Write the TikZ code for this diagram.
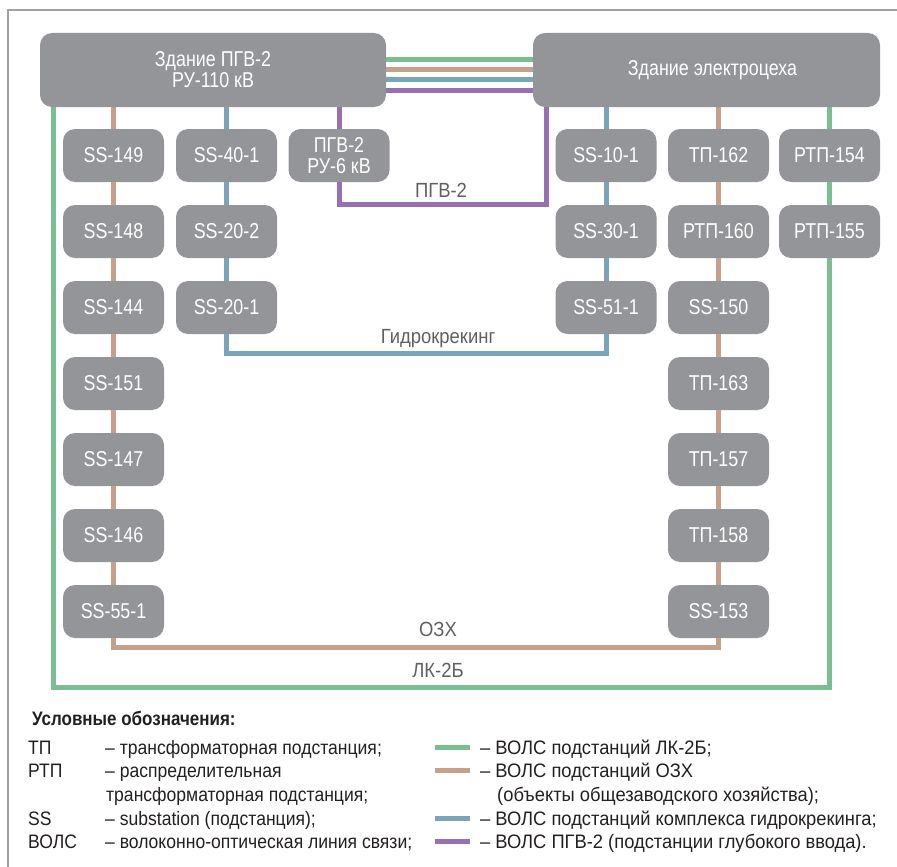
\documentclass[tikz,border=0pt]{standalone}
\usepackage{fontspec}
\setmainfont{Liberation Sans}[FakeStretch=0.83]
\newfontfamily\legL{Liberation Sans}[FakeStretch=0.90]
\newfontfamily\legR{Liberation Sans}[FakeStretch=0.94]
\newfontfamily\legT{Liberation Sans}[FakeStretch=0.87]
\newfontfamily\lblf{Liberation Sans}[FakeStretch=0.90]
\usetikzlibrary{backgrounds}
\definecolor{boxgray}{HTML}{939598}
\definecolor{lgreen}{HTML}{7BBE94}
\definecolor{lbrown}{HTML}{C6A08B}
\definecolor{lblue}{HTML}{7BA4B9}
\definecolor{lpurple}{HTML}{9670B0}
\definecolor{framegray}{HTML}{A0A0A0}
\definecolor{labelgray}{HTML}{5F6062}
\definecolor{legtext}{HTML}{231F20}
\begin{document}
\begin{tikzpicture}[x=1pt,y=-1pt,
  box/.style={rectangle, rounded corners=12pt, fill=boxgray, text=white,
    minimum width=101pt, minimum height=53pt, inner sep=0pt, align=center,
    font=\fontsize{21.5}{21}\selectfont},
  bld/.style={box, minimum width=346pt, minimum height=74pt},
  wire/.style={line width=5pt},
  gr/.style={wire, draw=lgreen},
  br/.style={wire, draw=lbrown},
  bl/.style={wire, draw=lblue},
  pu/.style={wire, draw=lpurple},
  lbl/.style={text=labelgray, inner sep=0pt, font=\lblf\fontsize{20.5}{20}\selectfont},
  leg/.style={text=legtext, inner sep=0pt, anchor=base west, font=\legL\fontsize{19.5}{23.5}\selectfont},
  legr/.style={leg, font=\legR\fontsize{19.5}{23.5}\selectfont},
  legt/.style={leg, font=\legT\fontsize{19.5}{23.5}\selectfont\bfseries}
]
\useasboundingbox (0,0) rectangle (897,867);
% frame
\draw[framegray, line width=1.5pt] (897,10) -- (8,10) -- (8,867);

% buildings
\node[bld] (pgv) at (213,70) {Здание ПГВ-2\\РУ-110 кВ};
\node[bld, minimum width=347pt] (el) at (706.5,70) {\hspace*{12pt}Здание электроцеха};

% left column 1
\node[box] (s149) at (113.5,155.5) {SS-149};
\node[box] (s148) at (113.5,231.5) {SS-148};
\node[box] (s144) at (113.5,307.5) {SS-144};
\node[box] (s151) at (113.5,383.5) {SS-151};
\node[box] (s147) at (113.5,459.5) {SS-147};
\node[box] (s146) at (113.5,535.5) {SS-146};
\node[box] (s551) at (113.5,611.5) {SS-55-1};
% left column 2
\node[box] (s401) at (226.5,155.5) {SS-40-1};
\node[box] (s202) at (226.5,231.5) {SS-20-2};
\node[box] (s201) at (226.5,307.5) {SS-20-1};
% left column 3
\node[box] (ru6) at (339,155.5) {ПГВ-2\\РУ-6 кВ};
% right column 1
\node[box] (s101) at (606,155.5) {SS-10-1};
\node[box] (s301) at (606,231.5) {SS-30-1};
\node[box] (s511) at (606,307.5) {SS-51-1};
% right column 2
\node[box] (t162) at (718.5,155.5) {ТП-162};
\node[box] (r160) at (718.5,231.5) {РТП-160};
\node[box] (s150) at (718.5,307.5) {SS-150};
\node[box] (t163) at (718.5,383.5) {ТП-163};
\node[box] (t157) at (718.5,459.5) {ТП-157};
\node[box] (t158) at (718.5,535.5) {ТП-158};
\node[box] (s153) at (718.5,611.5) {SS-153};
% right column 3
\node[box] (r154) at (829.5,155.5) {РТП-154};
\node[box] (r155) at (829.5,231.5) {РТП-155};

% line labels
\node[lbl] (lpgv) at (441,190) {ПГВ-2};
\node[lbl] (lgk) at (438,339) {Гидрокрекинг};
\node[lbl] (lozh) at (438,629.5) {ОЗХ};
\node[lbl] (llk) at (438,670) {ЛК-2Б};

% helper coordinates
\coordinate (pc) at (546,204.5);
\coordinate (bc) at (0,353.5);
\coordinate (oc) at (0,647);
\coordinate (gL) at (53,687);

\begin{scope}[on background layer]
% links between buildings
\draw[gr] ([yshift=10.5pt]pgv.east) -- ([yshift=10.5pt]pgv.east -| el.west);
\draw[br] ([yshift=0.5pt]pgv.east) -- ([yshift=0.5pt]pgv.east -| el.west);
\draw[bl] ([yshift=-9.5pt]pgv.east) -- ([yshift=-9.5pt]pgv.east -| el.west);
\draw[pu] ([yshift=-20.5pt]pgv.east) -- ([yshift=-20.5pt]pgv.east -| el.west);
% OZKh (brown)
\draw[br] (pgv.south -| s149) -- (s149) -- (s148) -- (s144) -- (s151) -- (s147) -- (s146) -- (s551);
\draw[br] (el.south -| t162) -- (t162) -- (r160) -- (s150) -- (t163) -- (t157) -- (t158) -- (s153);
\draw[br] (s551.south) -- (s551.south |- oc) -- (s153.south |- oc) -- (s153.south);
% hydrocracking (blue)
\draw[bl] (pgv.south -| s401) -- (s401) -- (s202) -- (s201);
\draw[bl] (el.south -| s101) -- (s101) -- (s301) -- (s511);
\draw[bl] (s201.south) -- (s201.south |- bc) -- (s511.south |- bc) -- (s511.south);
% PGV-2 (purple)
\draw[pu] (pgv.south -| ru6) -- (ru6.north);
\draw[pu] (ru6.south) -- (ru6.south |- pc) -- (pc) -- (pc |- el.south);
% LK-2B (green)
\draw[gr] (el.south -| r154) -- (r154) -- (r155);
\draw[gr] (pgv.south -| gL) -- (gL) -- (gL -| r155) -- (r155.south);
\end{scope}

% legend
\node[legt] (lt) at (32,725) {Условные обозначения:};
\node[leg] (a1) at (28,754) {ТП};
\node[leg] (b1) at (105,754) {– трансформаторная подстанция;};
\node[leg] (a2) at (28,777.5) {РТП};
\node[leg] (b2) at (105,777.5) {– распределительная};
\node[leg] (b2c) at (106,801) {трансформаторная подстанция;};
\node[leg] (a3) at (28,825) {SS};
\node[leg] (b3) at (105,825) {– substation (подстанция);};
\node[leg] (a4) at (28,848) {ВОЛС};
\node[leg] (b4) at (105,848) {– волоконно-оптическая линия связи;};

\draw[gr] (435,747) -- (470,747);
\draw[br] (435,770.5) -- (470,770.5);
\draw[bl] (435,818) -- (470,818);
\draw[pu] (435,841) -- (470,841);
\node[legr] (c1) at (480,754) {– ВОЛС подстанций ЛК-2Б;};
\node[legr] (c2) at (480,777.5) {– ВОЛС подстанций ОЗХ};
\node[legr] (c2c) at (497,801) {(объекты общезаводского хозяйства);};
\node[legr] (c3) at (480,825) {– ВОЛС подстанций комплекса гидрокрекинга;};
\node[legr] (c4) at (480,848) {– ВОЛС ПГВ-2 (подстанции глубокого ввода).};
\end{tikzpicture}
\end{document}
